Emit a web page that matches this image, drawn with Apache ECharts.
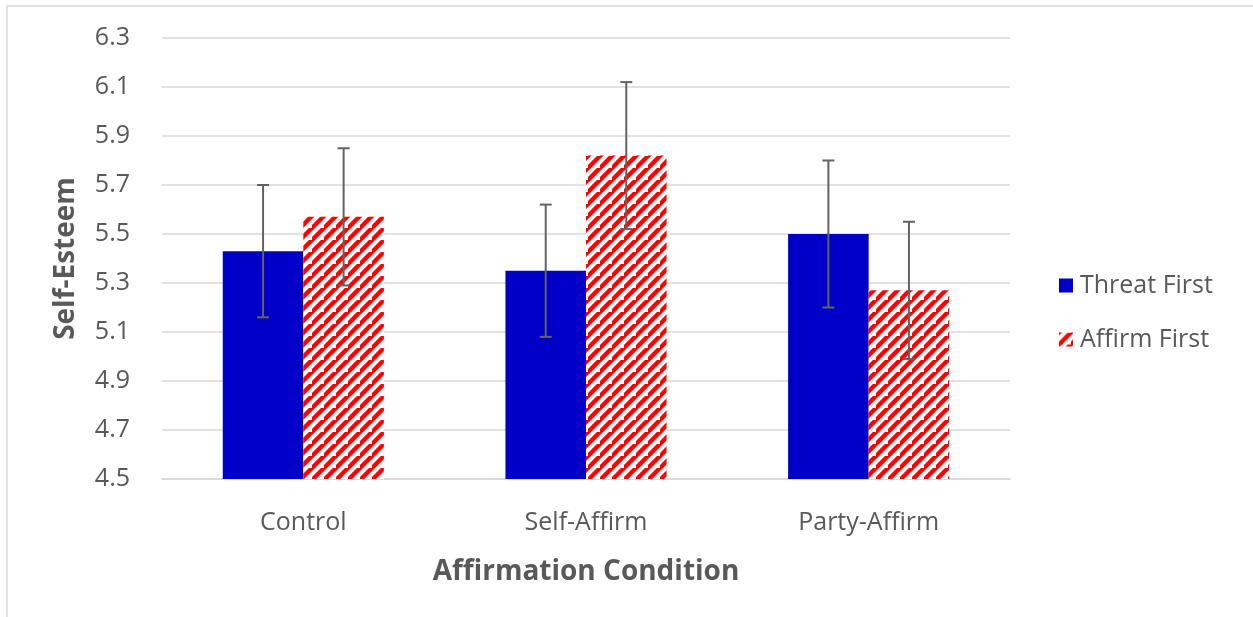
<!DOCTYPE html>
<html>
<head>
<meta charset="utf-8">
<script src="https://cdn.jsdelivr.net/npm/echarts@6/dist/echarts.min.js"></script>
<style>
html,body{margin:0;padding:0;background:#fff;}
#chart{width:1253px;height:617px;}
</style>
</head>
<body>
<div id="chart"></div>
<script>
const categories = ['Control', 'Self-Affirm', 'Party-Affirm'];
const seriesNames = ['Threat First', 'Affirm First'];
const threatFirst = [5.43, 5.35, 5.50];
const affirmFirst = [5.57, 5.82, 5.27];
const threatErr = [0.27, 0.27, 0.30];
const affirmErr = [0.28, 0.30, 0.28];
const yTicks = [4.5, 4.7, 4.9, 5.1, 5.3, 5.5, 5.7, 5.9, 6.1, 6.3];

function hatch() {
  const s = 12;
  const c = document.createElement('canvas');
  c.width = s; c.height = s;
  const g = c.getContext('2d');
  g.fillStyle = '#ffffff';
  g.fillRect(0, 0, s, s);
  g.strokeStyle = '#ff0000';
  g.lineWidth = 4.4;
  g.beginPath();
  g.moveTo(-s, s * 2); g.lineTo(s * 2, -s);
  g.moveTo(-s * 2, s * 2); g.lineTo(s, -s);
  g.moveTo(0, s * 3); g.lineTo(s * 3, 0);
  g.stroke();
  return c;
}
const hatchPattern = { image: hatch(), repeat: 'repeat' };

const chart = echarts.init(document.getElementById('chart'), null, { renderer: 'canvas' });
const FONT = '"Open Sans", "Noto Sans", sans-serif';
const GAP = 0.43;

function errItem(vals, errs, sIdx) {
  return function (params, api) {
    const i = api.value(0);
    const v = api.value(1);
    const e = api.value(2);
    const band = api.size([1, 0])[0];
    const bw = band * (1 - GAP) / 2;
    const off = sIdx === 0 ? -bw / 2 : bw / 2;
    const top = api.coord([i, v + e]);
    const bot = api.coord([i, v - e]);
    const x = top[0] + off;
    const cap = 6;
    const st = { stroke: '#636363', lineWidth: 2 };
    return {
      type: 'group',
      children: [
        { type: 'line', shape: { x1: x, y1: top[1], x2: x, y2: bot[1] }, style: st },
        { type: 'line', shape: { x1: x - cap, y1: top[1], x2: x + cap, y2: top[1] }, style: st },
        { type: 'line', shape: { x1: x - cap, y1: bot[1], x2: x + cap, y2: bot[1] }, style: st }
      ]
    };
  };
}

chart.setOption({
  animation: false,
  backgroundColor: '#ffffff',
  graphic: [{
    type: 'rect',
    shape: { x: 7, y: 6, width: 1300, height: 700 },
    style: { fill: 'none', stroke: '#d9d9d9', lineWidth: 1.5 },
    silent: true
  }],
  grid: { left: 162, right: 243, top: 38, bottom: 138 },
  legend: {
    orient: 'vertical',
    left: 1054,
    top: 268,
    itemWidth: 14,
    itemHeight: 14,
    itemGap: 29,
    icon: 'rect',
    data: seriesNames,
    textStyle: { fontFamily: FONT, fontSize: 25, color: '#595959', padding: [0, 0, 0, 2] }
  },
  xAxis: {
    type: 'category',
    data: categories,
    axisLine: { lineStyle: { color: '#d9d9d9', width: 1.5 } },
    axisTick: { show: false },
    axisLabel: { fontFamily: FONT, fontSize: 25, color: '#595959', margin: 31 },
    name: 'Affirmation Condition',
    nameLocation: 'middle',
    nameGap: 79,
    nameTextStyle: { fontFamily: FONT, fontSize: 28, fontWeight: 'bold', color: '#595959' }
  },
  yAxis: {
    type: 'value',
    min: 4.5,
    max: 6.3,
    interval: 0.2,
    axisLine: { show: false },
    axisTick: { show: false },
    splitLine: { lineStyle: { color: '#d9d9d9', width: 1.5 } },
    axisLabel: {
      fontFamily: FONT, fontSize: 25, color: '#595959', margin: 32,
      formatter: function (v) { return yTicks.indexOf(Math.round(v * 10) / 10) >= 0 ? v.toFixed(1) : ''; }
    },
    name: 'Self-Esteem',
    nameLocation: 'middle',
    nameGap: 82,
    nameTextStyle: { fontFamily: FONT, fontSize: 28, fontWeight: 'bold', color: '#595959' }
  },
  series: [
    {
      name: seriesNames[0], type: 'bar', data: threatFirst,
      barGap: '0%', barCategoryGap: (GAP * 100) + '%',
      itemStyle: { color: '#0000c8' }
    },
    {
      name: seriesNames[1], type: 'bar', data: affirmFirst,
      itemStyle: { color: hatchPattern }
    },
    {
      type: 'custom', silent: true, z: 10,
      data: threatFirst.map((v, i) => [i, v, threatErr[i]]),
      renderItem: errItem(threatFirst, threatErr, 0)
    },
    {
      type: 'custom', silent: true, z: 10,
      data: affirmFirst.map((v, i) => [i, v, affirmErr[i]]),
      renderItem: errItem(affirmFirst, affirmErr, 1)
    }
  ]
});
</script>
</body>
</html>
